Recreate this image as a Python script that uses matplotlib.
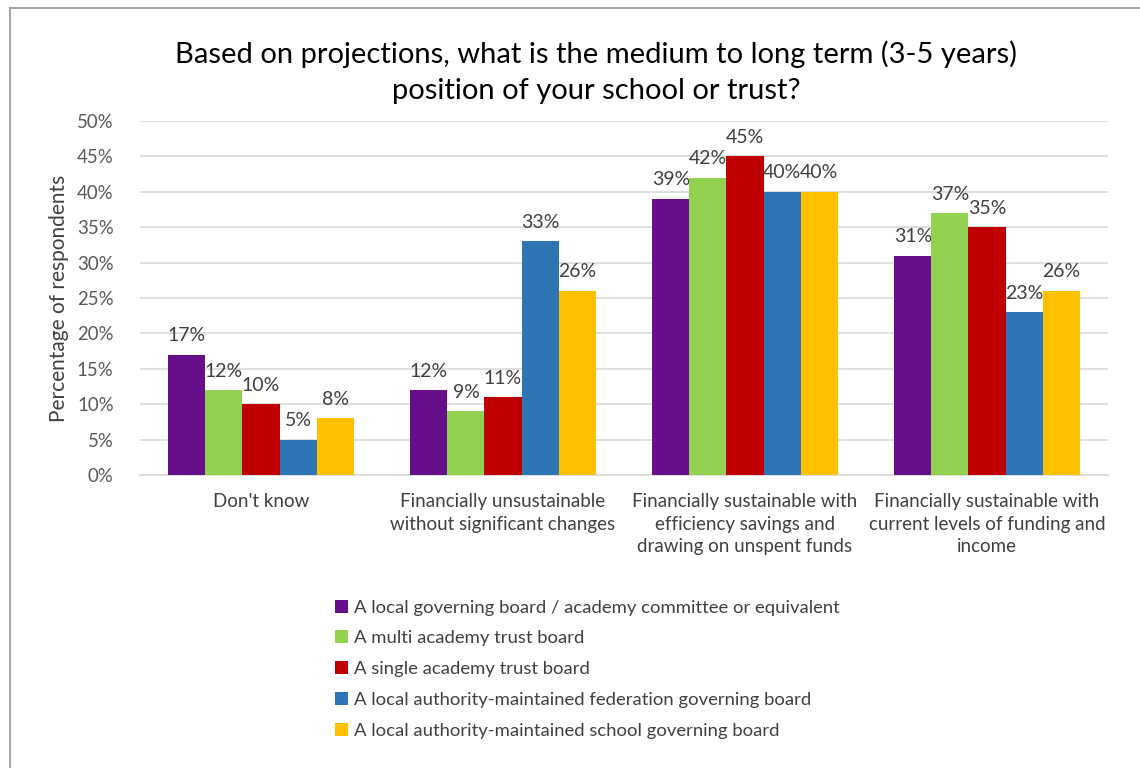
import numpy as np
import matplotlib.pyplot as plt
from matplotlib.patches import Patch
from matplotlib.lines import Line2D

plt.rcParams['font.family'] = ['Lato', 'DejaVu Sans']

categories = ["Don't know",
              "Financially unsustainable\nwithout significant changes",
              "Financially sustainable with\nefficiency savings and\ndrawing on unspent funds",
              "Financially sustainable with\ncurrent levels of funding and\nincome"]
series_names = ["A local governing board / academy committee or equivalent",
                "A multi academy trust board",
                "A single academy trust board",
                "A local authority-maintained federation governing board",
                "A local authority-maintained school governing board"]
local_board = [17, 12, 39, 31]
mat_board = [12, 9, 42, 37]
sat_board = [10, 11, 45, 35]
federation_board = [5, 33, 40, 23]
school_board = [8, 26, 40, 26]
colors = ['#65108A', '#92D050', '#C00000', '#2E75B6', '#FFC000']

series = [local_board, mat_board, sat_board, federation_board, school_board]

W, H = 1140, 768
fig = plt.figure(figsize=(W / 100, H / 100), dpi=100)
ax = fig.add_axes([140 / W, 1 - 475 / H, (1108 - 140) / W, (475 - 121) / H])

x = np.arange(len(categories))
width = 0.153
for i, (vals, col) in enumerate(zip(series, colors)):
    pos = x + (i - 2) * width
    ax.bar(pos, vals, width, color=col, zorder=3)
    for p, v in zip(pos, vals):
        ax.text(p, v + 1.9, f'{v}%', ha='center', va='baseline',
                fontsize=14, color='#404040')

ax.set_xlim(-0.5, len(categories) - 0.5)
ax.set_ylim(0, 50)
ax.set_yticks(range(0, 51, 5))
ax.set_yticklabels([f'{t}%' for t in range(0, 51, 5)])
ax.set_xticks(x)
ax.set_xticklabels(categories, fontsize=13.5, color='#404040', linespacing=1.4, va='top')
ax.tick_params(axis='y', labelsize=13.4, labelcolor='#595959', length=0, pad=19)
ax.tick_params(axis='x', length=0, pad=13)
ax.grid(axis='y', color='#D9D9D9', linewidth=1.2, zorder=0)
for s in ['top', 'right', 'left']:
    ax.spines[s].set_visible(False)
ax.spines['bottom'].set_color('#D9D9D9')
ax.spines['bottom'].set_linewidth(1.2)

ax.set_ylabel('Percentage of respondents', fontsize=15, color='#404040', labelpad=6)

fig.text(596 / W, 1 - 72 / H,
         'Based on projections, what is the medium to long term (3-5 years)\nposition of your school or trust?',
         ha='center', va='center', fontsize=21, color='#000000', linespacing=1.5)

handles = [Patch(facecolor=c, edgecolor='none') for c in colors]
fig.legend(handles, series_names, loc='upper left',
           bbox_to_anchor=(318 / W, 1 - 583 / H), frameon=False,
           fontsize=13.3, labelcolor='#404040', handlelength=0.7, handleheight=0.7,
           handletextpad=0.35, labelspacing=0.8)

# chart frame
fig.add_artist(Line2D([9.5 / W, 9.5 / W], [0, 1 - 8 / H], color='#A6A6A6', linewidth=1.5))
fig.add_artist(Line2D([9.5 / W, 1], [1 - 8 / H, 1 - 8 / H], color='#A6A6A6', linewidth=1.5))

fig.savefig('out.png', dpi=100, facecolor='white')
